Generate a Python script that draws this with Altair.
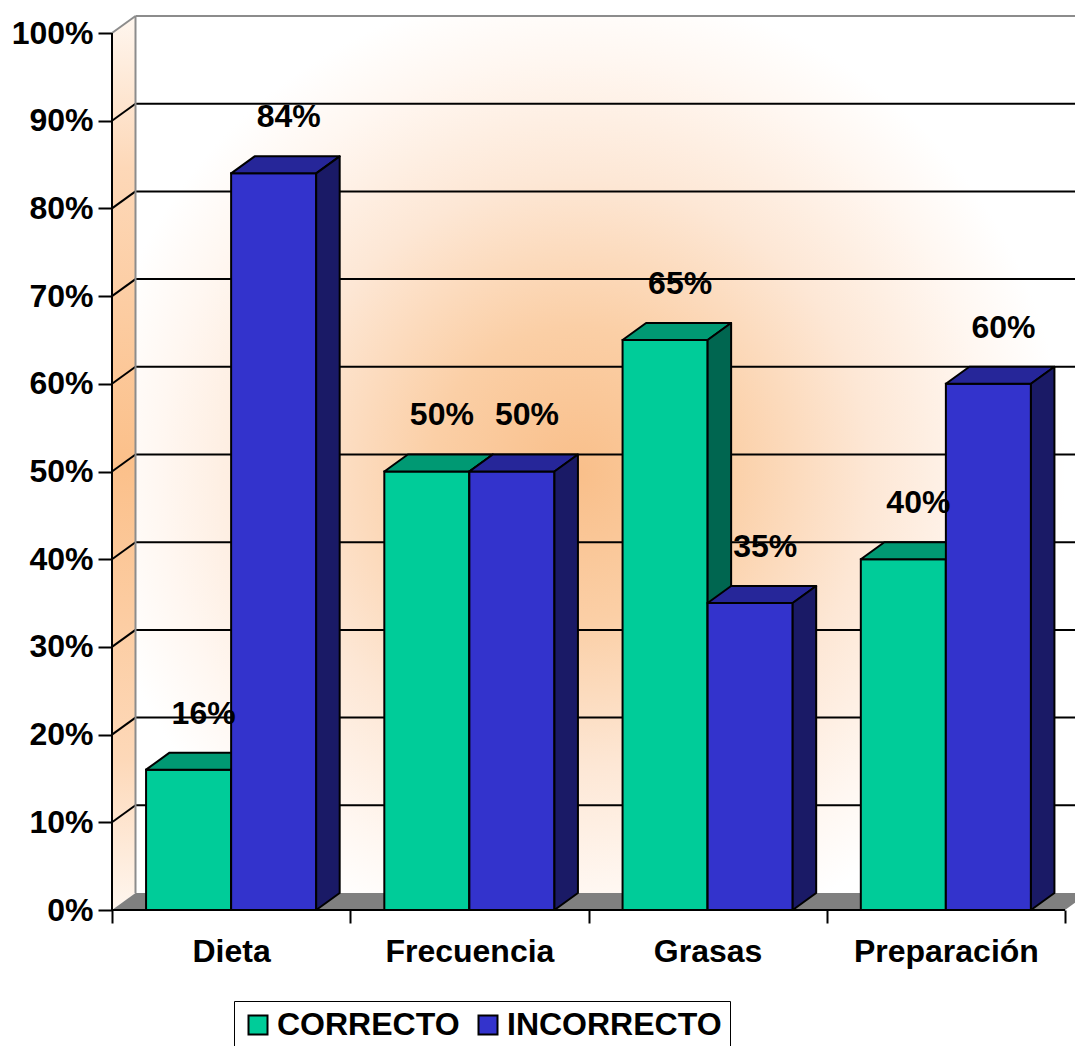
import json
import altair as alt
import pandas as pd

# ---------------- data ----------------
categories = ["Dieta", "Frecuencia", "Grasas", "Preparación"]
series_names = ["CORRECTO", "INCORRECTO"]
correcto = [16, 50, 65, 40]
incorrecto = [84, 50, 35, 60]
y_tick_values = [0, 10, 20, 30, 40, 50, 60, 70, 80, 90, 100]

# ---------------- style ----------------
front_colors = ["#00CC99", "#3333CC"]
top_colors = ["#009973", "#262699"]
side_colors = ["#006650", "#1A1A66"]
FONT = "Liberation Sans"
FS = 32

PLOT_W, PLOT_H = 963, 894
PX_CAT = 238.25          # pixels per category
PX_PCT = 8.77            # pixels per percent
DX = 23.5 / PX_CAT       # 3-D depth, x units
DY = 17.0 / PX_PCT       # 3-D depth, y units
XMAX = PLOT_W / PX_CAT
YMAX = PLOT_H / PX_PCT
BAR_START = 0.143
BAR_W = 0.357
NCAT = len(categories)
YTOP = max(y_tick_values)

xs = alt.Scale(domain=[0, XMAX], nice=False, zero=False)
ys = alt.Scale(domain=[0, YMAX], nice=False, zero=False)

# ---------------- tables built from the arrays ----------------
values_by_series = [correcto, incorrecto]
front_rows, top_rows, side_rows, label_rows = [], [], [], []
for j, (name, vals) in enumerate(zip(series_names, values_by_series)):
    for i, v in enumerate(vals):
        x0 = i + BAR_START + j * BAR_W
        x1 = x0 + BAR_W
        bid = f"{name}-{i}"
        front_rows.append(dict(series=name, x=x0, x2=x1, y=0, y2=v))
        top_rows += [
            dict(series=name, bar=bid, x=x0, y=v, y2=v),
            dict(series=name, bar=bid, x=x0 + DX, y=v, y2=v + DY),
            dict(series=name, bar=bid, x=x1, y=v, y2=v + DY),
            dict(series=name, bar=bid, x=x1 + DX, y=v + DY, y2=v + DY),
        ]
        side_rows += [
            dict(series=name, bar=bid, x=x1, y=0, y2=v),
            dict(series=name, bar=bid, x=x1 + DX, y=DY, y2=v + DY),
        ]
        label_rows.append(dict(series=name, x=(x0 + x1) / 2 + 0.063, y=v + 6.4, text=f"{v}%"))

front_df = pd.DataFrame(front_rows)
top_df = pd.DataFrame(top_rows)
side_df = pd.DataFrame(side_rows)
label_df = pd.DataFrame(label_rows)

back_df = pd.DataFrame([dict(x=DX, x2=XMAX, y=DY, y2=YMAX)])
left_df = pd.DataFrame([dict(x=0, y=0, y2=YTOP), dict(x=DX, y=DY, y2=YTOP + DY)])
floor_df = pd.DataFrame([
    dict(x=0, y=0, y2=0), dict(x=DX, y=0, y2=DY),
    dict(x=NCAT, y=0, y2=DY), dict(x=NCAT + DX, y=DY, y2=DY),
])
grid_rows = []
for v in y_tick_values[1:-1]:
    grid_rows.append(dict(x=DX, x2=XMAX, y=v + DY, y2=v + DY))
    grid_rows.append(dict(x=0, x2=DX, y=v, y2=v + DY))
grid_df = pd.DataFrame(grid_rows)
edge_df = pd.DataFrame([
    dict(x=0, x2=DX, y=YTOP, y2=YTOP + DY),
    dict(x=DX, x2=XMAX, y=YTOP + DY, y2=YTOP + DY),
    dict(x=DX, x2=DX, y=DY, y2=YTOP + DY),
])
axis_df = pd.DataFrame([
    dict(x=0, x2=0, y=0, y2=YTOP),
    dict(x=0, x2=NCAT, y=0, y2=0),
])

# ---------------- axes / legend ----------------
label_expr = ("datum.value % 1 == 0 ? '' : "
              + json.dumps(categories, ensure_ascii=False) + "[floor(datum.value)]")
x_axis = alt.Axis(
    values=[k * 0.5 for k in range(2 * NCAT + 1)], labelExpr=label_expr,
    tickSize=13, tickWidth=2, tickColor="black",
    tickOpacity={"condition": {"test": "datum.value % 1 != 0", "value": 0}, "value": 1},
    domain=False, grid=False, labelFont=FONT, labelFontSize=FS, labelFontWeight="bold",
    labelColor="black", labelPadding=13, labelOverlap=False, labelFlush=False,
    labelLimit=400, title=None,
)
y_axis = alt.Axis(
    values=y_tick_values, labelExpr="datum.value + '%'",
    tickSize=14, tickWidth=2, tickColor="black", domain=False, grid=False,
    labelFont=FONT, labelFontSize=FS, labelFontWeight="bold", labelColor="black",
    labelPadding=5, labelOverlap=False, labelLimit=400, title=None,
)
legend = alt.Legend(
    title=None, orient="none", legendX=122, legendY=985, direction="horizontal",
    symbolType="square", symbolSize=361, symbolStrokeColor="black", symbolStrokeWidth=2,
    labelFont=FONT, labelFontSize=FS, labelFontWeight="bold", labelColor="black",
    labelOffset=3, labelLimit=400, columnPadding=12, padding=8,
    strokeColor="black", fillColor="white",
)

def X():
    return alt.X("x:Q", scale=xs, axis=x_axis)

def Y():
    return alt.Y("y:Q", scale=ys, axis=y_axis, stack=None)

# ---------------- layers ----------------
back_wall = alt.Chart(back_df).mark_rect(
    fill=alt.RadialGradient(
        gradient="radial",
        stops=[alt.GradientStop(offset=0, color="#F9BF8A"),
               alt.GradientStop(offset=0.3, color="#FBCFA6"),
               alt.GradientStop(offset=0.6, color="#FDE7D5"),
               alt.GradientStop(offset=0.85, color="#FFF7F1"),
               alt.GradientStop(offset=1, color="#FFFFFF")],
        x1=0.47, y1=0.52, r1=0, x2=0.47, y2=0.52, r2=0.52,
    )
).encode(x=X(), x2="x2:Q", y=Y(), y2="y2:Q")

left_wall = alt.Chart(left_df).mark_area(
    orient="vertical",
    fill=alt.RadialGradient(
        gradient="radial",
        stops=[alt.GradientStop(offset=0, color="#FBC08A"),
               alt.GradientStop(offset=0.6, color="#FDD8B8"),
               alt.GradientStop(offset=1, color="#FFFFFF")],
        x1=0.5, y1=0.5, r1=0, x2=0.5, y2=0.5, r2=0.55,
    )
).encode(x=X(), y=Y(), y2="y2:Q")

floor = alt.Chart(floor_df).mark_area(orient="vertical", fill="#808080").encode(
    x=X(), y=Y(), y2="y2:Q")

grid = alt.Chart(grid_df).mark_rule(color="black", strokeWidth=2).encode(
    x=X(), x2="x2:Q", y=Y(), y2="y2:Q")

edges = alt.Chart(edge_df).mark_rule(color="#8C8C8C", strokeWidth=2).encode(
    x=X(), x2="x2:Q", y=Y(), y2="y2:Q")

axis_lines = alt.Chart(axis_df).mark_rule(color="black", strokeWidth=2).encode(
    x=X(), x2="x2:Q", y=Y(), y2="y2:Q")

bar_layers = []
for j, name in enumerate(series_names):
    f = alt.Chart(front_df[front_df.series == name]).mark_rect(
        stroke="black", strokeWidth=2).encode(
        x=X(), x2="x2:Q", y=Y(), y2="y2:Q",
        color=alt.Color("series:N",
                        scale=alt.Scale(domain=series_names, range=front_colors),
                        legend=legend))
    t = alt.Chart(top_df[top_df.series == name]).mark_area(
        orient="vertical", fill=top_colors[j], stroke="black", strokeWidth=2,
        strokeJoin="round").encode(x=X(), y=Y(), y2="y2:Q", detail="bar:N")
    s = alt.Chart(side_df[side_df.series == name]).mark_area(
        orient="vertical", fill=side_colors[j], stroke="black", strokeWidth=2,
        strokeJoin="round").encode(x=X(), y=Y(), y2="y2:Q", detail="bar:N")
    bar_layers += [f, t, s]

labels = alt.Chart(label_df).mark_text(
    font=FONT, fontSize=FS, fontWeight="bold", color="black",
    align="center", baseline="middle").encode(x=X(), y=Y(), text="text:N")

chart = alt.layer(
    back_wall, left_wall, floor, grid, edges, axis_lines, *bar_layers, labels
).properties(
    width=PLOT_W, height=PLOT_H,
    autosize=alt.AutoSizeParams(type="none"),
    padding={"left": 112, "top": 16, "right": 0, "bottom": 136},
    background="white",
).configure_view(stroke=None)

chart.save("out.html", embed_options={"renderer": "svg", "actions": False})
